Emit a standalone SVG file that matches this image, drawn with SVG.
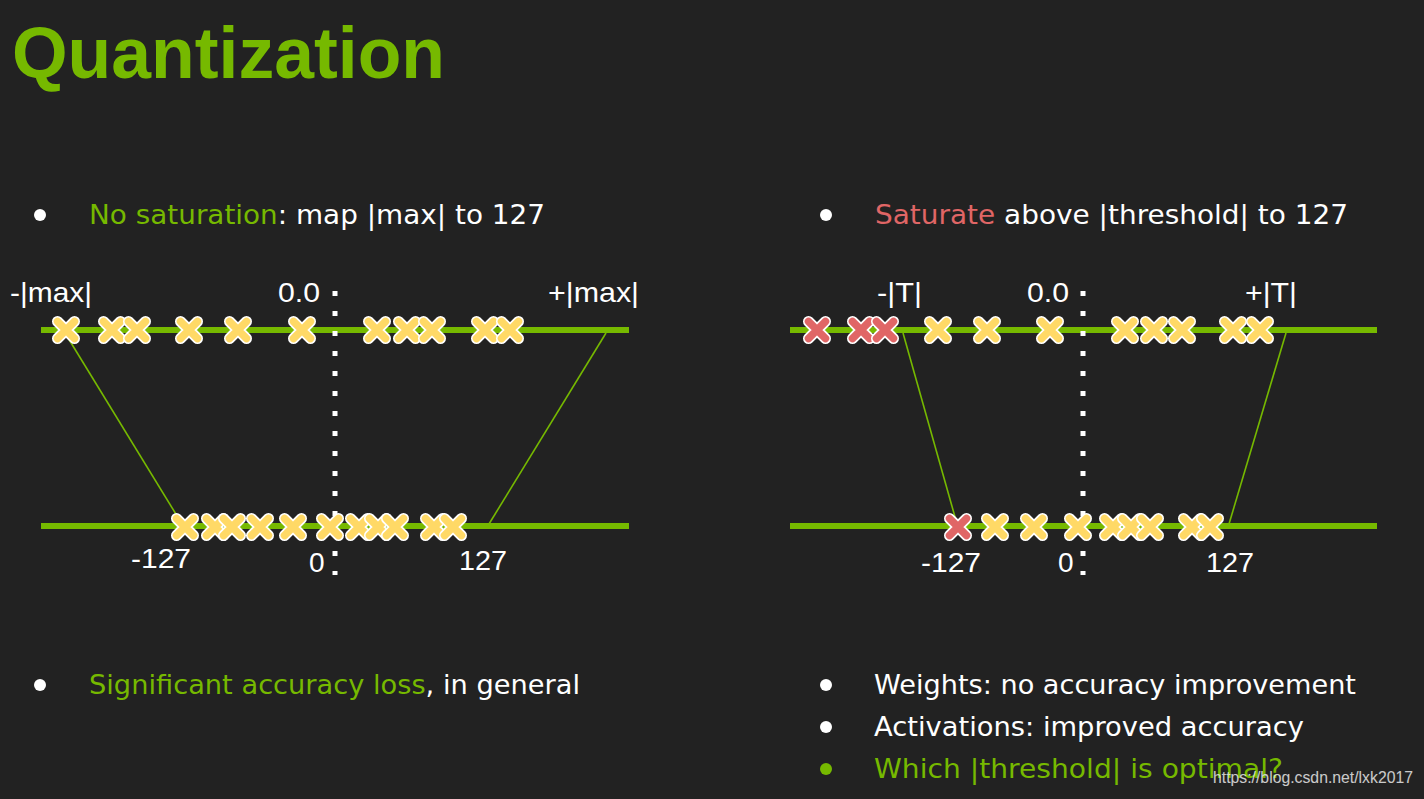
<svg xmlns="http://www.w3.org/2000/svg" xmlns:xlink="http://www.w3.org/1999/xlink" width="1424" height="799" viewBox="0 0 1424 799">
<style>
.title{font-family:"Liberation Sans",Arial,sans-serif;font-weight:bold;font-size:72px;fill:#76b900}
.bt{font-family:"DejaVu Sans","Noto Sans",sans-serif;font-size:27px;fill:#ffffff}
.g{fill:#76b900}
.r{fill:#e06666}
.lbl{font-family:"Liberation Sans",Arial,sans-serif;font-size:28px;fill:#ffffff}
.axis{stroke:#76b900;stroke-width:6}
.map{stroke:#76b900;stroke-width:1.6}
.dots{stroke:#ffffff;stroke-width:5;stroke-dasharray:5 15}
.wm{font-family:"Liberation Sans",Arial,sans-serif;font-size:17px;fill:#e8e8e8;opacity:0.85}
</style>
<defs>
<g id="xy"><path d="M-8.5,-8.5L8.5,8.5M-8.5,8.5L8.5,-8.5" stroke="#ffffff" stroke-width="11" stroke-linecap="round"/><path d="M-8.5,-8.5L8.5,8.5M-8.5,8.5L8.5,-8.5" stroke="#ffd966" stroke-width="7.5" stroke-linecap="round"/></g>
<g id="xr"><path d="M-8.5,-8.5L8.5,8.5M-8.5,8.5L8.5,-8.5" stroke="#ffffff" stroke-width="11" stroke-linecap="round"/><path d="M-8.5,-8.5L8.5,8.5M-8.5,8.5L8.5,-8.5" stroke="#e06666" stroke-width="7.5" stroke-linecap="round"/></g>
</defs>
<rect width="1424" height="799" fill="#222222"/>
<g id="title"><text class="title" x="12" y="78" textLength="433" lengthAdjust="spacingAndGlyphs">Quantization</text></g>

<g id="bullet-left-top">
<circle cx="40" cy="215" r="6" fill="#ffffff"/>
<text class="bt" x="89" y="224" textLength="456" lengthAdjust="spacingAndGlyphs"><tspan class="g">No saturation</tspan>: map |max| to 127</text>
</g>
<g id="bullet-right-top">
<circle cx="826" cy="215" r="6" fill="#ffffff"/>
<text class="bt" x="875" y="224" textLength="473" lengthAdjust="spacingAndGlyphs"><tspan class="r">Saturate</tspan> above |threshold| to 127</text>
</g>
<g id="bullet-left-bottom">
<circle cx="40" cy="685" r="6" fill="#ffffff"/>
<text class="bt" x="89" y="694" textLength="491" lengthAdjust="spacingAndGlyphs"><tspan class="g">Significant accuracy loss</tspan>, in general</text>
</g>
<g id="bullet-right-b1">
<circle cx="826" cy="685" r="6" fill="#ffffff"/>
<text class="bt" x="874" y="694" textLength="482" lengthAdjust="spacingAndGlyphs">Weights: no accuracy improvement</text>
</g>
<g id="bullet-right-b2">
<circle cx="826" cy="727" r="6" fill="#ffffff"/>
<text class="bt" x="874" y="736" textLength="430" lengthAdjust="spacingAndGlyphs">Activations: improved accuracy</text>
</g>
<g id="bullet-right-b3">
<circle cx="826" cy="769" r="6" fill="#76b900"/>
<text class="bt g" x="874" y="778" textLength="409" lengthAdjust="spacingAndGlyphs">Which |threshold| is optimal?</text>
</g>

<g id="connectors">
<line class="axis" x1="41" y1="330" x2="629" y2="330"/>
<line class="axis" x1="41" y1="526" x2="629" y2="526"/>
<line class="map" x1="65" y1="333" x2="182" y2="524"/>
<line class="map" x1="606" y1="333" x2="489" y2="524"/>
<line class="dots" x1="335" y1="291" x2="335" y2="575"/>
<line class="axis" x1="790" y1="330" x2="1377" y2="330"/>
<line class="axis" x1="790" y1="526" x2="1377" y2="526"/>
<line class="map" x1="903" y1="333" x2="957" y2="524"/>
<line class="map" x1="1286" y1="333" x2="1229" y2="524"/>
<line class="dots" x1="1083" y1="291" x2="1083" y2="575"/>
</g>

<g id="left-labels">
<text class="lbl" x="10" y="302" textLength="82" lengthAdjust="spacingAndGlyphs">-|max|</text>
<text class="lbl" x="278" y="302" textLength="42" lengthAdjust="spacingAndGlyphs">0.0</text>
<text class="lbl" x="548" y="302" textLength="91" lengthAdjust="spacingAndGlyphs">+|max|</text>
<text class="lbl" x="131" y="568" textLength="60" lengthAdjust="spacingAndGlyphs">-127</text>
<text class="lbl" x="309" y="572">0</text>
<text class="lbl" x="459" y="570" textLength="48" lengthAdjust="spacingAndGlyphs">127</text>
</g>
<g id="right-labels">
<text class="lbl" x="877" y="302" textLength="45" lengthAdjust="spacingAndGlyphs">-|T|</text>
<text class="lbl" x="1027" y="302" textLength="42" lengthAdjust="spacingAndGlyphs">0.0</text>
<text class="lbl" x="1245" y="302" textLength="52" lengthAdjust="spacingAndGlyphs">+|T|</text>
<text class="lbl" x="921" y="572" textLength="60" lengthAdjust="spacingAndGlyphs">-127</text>
<text class="lbl" x="1058" y="572">0</text>
<text class="lbl" x="1206" y="572" textLength="48" lengthAdjust="spacingAndGlyphs">127</text>
</g>

<g id="left-top-points">
<use xlink:href="#xy" x="66" y="330"/><use xlink:href="#xy" x="112" y="330"/><use xlink:href="#xy" x="137" y="330"/><use xlink:href="#xy" x="189" y="330"/><use xlink:href="#xy" x="238" y="330"/><use xlink:href="#xy" x="302" y="330"/><use xlink:href="#xy" x="377" y="330"/><use xlink:href="#xy" x="407" y="330"/><use xlink:href="#xy" x="432" y="330"/><use xlink:href="#xy" x="485" y="330"/><use xlink:href="#xy" x="510" y="330"/>
</g>
<g id="left-bottom-points">
<use xlink:href="#xy" x="185" y="527"/><use xlink:href="#xy" x="215" y="527"/><use xlink:href="#xy" x="232" y="527"/><use xlink:href="#xy" x="260" y="527"/><use xlink:href="#xy" x="293" y="527"/><use xlink:href="#xy" x="330" y="527"/><use xlink:href="#xy" x="359" y="527"/><use xlink:href="#xy" x="378" y="527"/><use xlink:href="#xy" x="395" y="527"/><use xlink:href="#xy" x="434" y="527"/><use xlink:href="#xy" x="453" y="527"/>
</g>
<g id="right-top-points">
<use xlink:href="#xr" x="817" y="330"/><use xlink:href="#xr" x="861" y="330"/><use xlink:href="#xr" x="885" y="330"/><use xlink:href="#xy" x="938" y="330"/><use xlink:href="#xy" x="987" y="330"/><use xlink:href="#xy" x="1050" y="330"/><use xlink:href="#xy" x="1125" y="330"/><use xlink:href="#xy" x="1154" y="330"/><use xlink:href="#xy" x="1182" y="330"/><use xlink:href="#xy" x="1233" y="330"/><use xlink:href="#xy" x="1260" y="330"/>
</g>
<g id="right-bottom-points">
<use xlink:href="#xr" x="958" y="527"/><use xlink:href="#xy" x="995" y="527"/><use xlink:href="#xy" x="1034" y="527"/><use xlink:href="#xy" x="1078" y="527"/><use xlink:href="#xy" x="1113" y="527"/><use xlink:href="#xy" x="1131" y="527"/><use xlink:href="#xy" x="1150" y="527"/><use xlink:href="#xy" x="1192" y="527"/><use xlink:href="#xy" x="1210" y="527"/>
</g>

<g id="watermark"><text class="wm" x="1213" y="783" textLength="200" lengthAdjust="spacingAndGlyphs">https://blog.csdn.net/lxk2017</text></g>
</svg>
